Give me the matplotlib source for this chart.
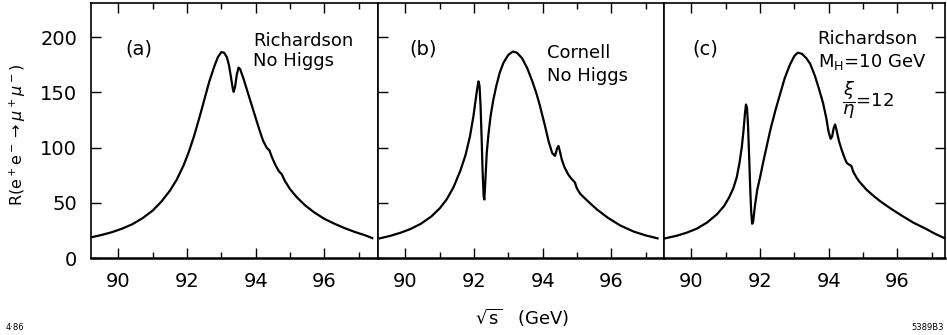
import matplotlib
matplotlib.use("Agg")
import matplotlib.pyplot as plt
from matplotlib.ticker import MultipleLocator

# values (sqrt(s) in GeV, R)
x_a = [89.2, 89.5, 89.8, 90.1, 90.4, 90.7, 91.0, 91.25, 91.5, 91.7, 91.9,
       92.05, 92.2, 92.35, 92.5, 92.65, 92.8, 92.9, 93.0, 93.08, 93.16, 93.22,
       93.28, 93.33, 93.36, 93.4, 93.45, 93.5, 93.55, 93.65, 93.8, 93.95,
       94.1, 94.22, 94.32, 94.4, 94.48, 94.58, 94.68, 94.76, 94.85, 95.0,
       95.2, 95.45, 95.7, 96.0, 96.3, 96.6, 96.9, 97.2, 97.4]
r_a = [18.7, 20.8, 23.3, 26.5, 30.5, 36, 43, 51, 61, 71, 84,
       96, 110, 126, 143, 160, 174, 182, 186.5, 186, 182, 175,
       164, 154, 150.5, 155, 166, 172.5, 171, 162, 147, 132,
       117, 106, 100, 97.5, 91, 84, 78.5, 76, 70, 62.5,
       55, 47.5, 41.5, 35.5, 31, 27, 23.5, 20.5, 18]

x_b = [89.25, 89.55, 89.85, 90.15, 90.45, 90.75, 91.0, 91.2, 91.4, 91.6,
       91.75, 91.88, 91.98, 92.05, 92.1, 92.13, 92.16, 92.19, 92.22, 92.25,
       92.28, 92.3, 92.33, 92.37, 92.42, 92.48, 92.56, 92.65, 92.75, 92.86,
       93.0, 93.13, 93.25, 93.4, 93.55, 93.7, 93.82, 93.92, 94.05, 94.18,
       94.28, 94.36, 94.42, 94.46, 94.5, 94.56, 94.64, 94.74, 94.82, 94.88,
       94.94, 95.0, 95.1, 95.3, 95.58, 95.9, 96.26, 96.65, 97.0, 97.35]
r_b = [17.8, 20, 22.8, 26.3, 31, 37.5, 45, 53, 64, 79,
       93, 110, 128, 144, 155, 160, 156, 138, 110, 78,
       56, 53, 70, 95, 112, 128, 143, 156, 168, 177,
       184, 187, 186, 181, 172, 160, 149, 138, 122, 105,
       95, 92.5, 99, 101.5, 97, 89, 82, 76, 72.5, 70.5,
       68.5, 63, 58, 52, 44, 36.5, 29.5, 24, 20.5, 17.8]

x_c = [89.23, 89.55, 89.85, 90.15, 90.45, 90.74, 90.95, 91.1, 91.22, 91.32,
       91.4, 91.47, 91.52, 91.56, 91.59, 91.62, 91.65, 91.68, 91.71, 91.74,
       91.77, 91.8, 91.85, 91.92, 92.0, 92.1, 92.2, 92.3, 92.45, 92.58,
       92.72, 92.87, 93.0, 93.1, 93.22, 93.35, 93.46, 93.6, 93.72, 93.84,
       93.93, 94.0, 94.06, 94.1, 94.15, 94.19, 94.23, 94.3, 94.38, 94.46,
       94.53, 94.6, 94.66, 94.72, 94.8, 94.9, 95.1, 95.3, 95.5, 95.8,
       96.1, 96.47, 96.8, 97.1, 97.39]
r_c = [17.8, 20, 22.8, 26.5, 32, 39.5, 47, 55, 63, 73,
       86, 101, 116, 131, 139, 136, 120, 94, 66, 43,
       31, 33, 47, 62, 73, 88, 102, 116, 134, 148,
       163, 175, 183, 186, 185, 181, 176, 165, 153, 140,
       127, 114, 108, 110, 118, 121, 116, 106, 98, 91,
       86, 84.5, 83.5, 78, 73.5, 69, 62, 56.5, 51.5, 45,
       39, 32, 27, 22, 17.8]

panels = [("(a)", x_a, r_a), ("(b)", x_b, r_b), ("(c)", x_c, r_c)]

W, H = 947, 335
plt.rcParams['font.family'] = 'DejaVu Sans'
fig = plt.figure(figsize=(W / 100, H / 100), dpi=100)

# axes boxes in pixels: left, right
boxes = [(91, 378), (378, 664), (664, 945)]
top, bottom = 3, 258
tag_x = [0.12, 0.11, 0.10]

axs = []
for i, (tag, xs, ys) in enumerate(panels):
    l, r = boxes[i]
    ax = fig.add_axes([l / W, (H - bottom) / H, (r - l) / W, (bottom - top) / H])
    ax.plot(xs, ys, color='black', lw=1.6)
    ax.set_xlim(89.2, 89.2 + (r - l) / 34.3)
    ax.set_ylim(0, 231)
    ax.xaxis.set_major_locator(MultipleLocator(2))
    ax.xaxis.set_minor_locator(MultipleLocator(1))
    ax.yaxis.set_major_locator(MultipleLocator(50))
    ax.tick_params(axis='x', which='both', direction='in', top=True,
                   labelsize=14, pad=10)
    ax.tick_params(which='major', length=7, width=1)
    ax.tick_params(which='minor', length=4, width=1)
    ax.tick_params(axis='y', direction='in', labelsize=14, pad=10,
                   left=(i < 2), right=(i == 2), labelleft=(i == 0))
    for s in ax.spines.values():
        s.set_linewidth(1.2)
    ax.spines['bottom'].set_linewidth(1.8)
    ax.text(tag_x[i], 0.82, tag, transform=ax.transAxes,
            fontsize=14, ha='left', va='center')
    axs.append(ax)

txt_kw = dict(fontsize=13, ha='left', va='center')
fig.text(253 / W, 1 - 41 / H, "Richardson", **txt_kw)
fig.text(253 / W, 1 - 61 / H, "No Higgs", **txt_kw)
fig.text(547 / W, 1 - 53 / H, "Cornell", **txt_kw)
fig.text(547 / W, 1 - 76 / H, "No Higgs", **txt_kw)
fig.text(867 / W, 1 - 39 / H, "Richardson", fontsize=13, ha='center', va='center')
fig.text(872 / W, 1 - 62 / H, r"M$_\mathregular{H}$=10 GeV", fontsize=13,
         ha='center', va='center')
fig.text(842 / W, 1 - 100 / H, r"$\dfrac{\xi}{\eta}$=12", fontsize=13,
         ha='left', va='center')

fig.text(18 / W, 1 - 135 / H, r"R(e$^+$e$^-$$\rightarrow$$\mu^+\mu^-$)",
         rotation=90, fontsize=11.5, ha='center', va='center')
fig.text(522 / W, 1 - 318 / H, r"$\sqrt{\mathregular{s}}$   (GeV)",
         fontsize=13, ha='center', va='center')
fig.text(6 / W, 1 - 327 / H, "4·86", fontsize=6, ha='left', va='center')
fig.text(944 / W, 1 - 327 / H, "5389B3", fontsize=6, ha='right', va='center')

fig.savefig("out.png", dpi=100)
